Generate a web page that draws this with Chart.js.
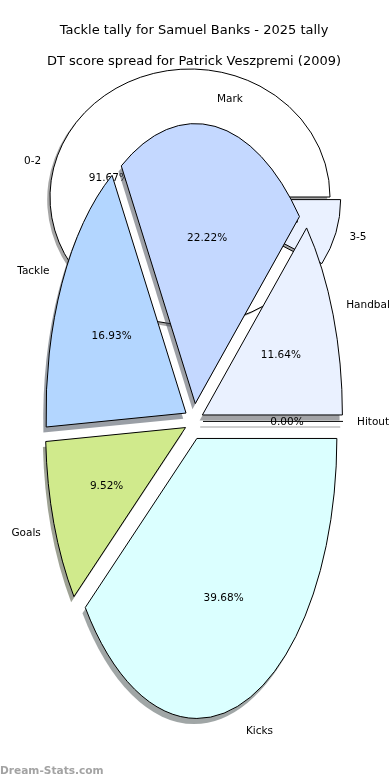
<!DOCTYPE html>
<html>
<head>
<meta charset="utf-8">
<script src="https://cdn.jsdelivr.net/npm/chart.js@4.4.1/dist/chart.umd.min.js"></script>
<style>
  html, body { margin: 0; padding: 0; background: #ffffff; width: 390px; height: 780px; overflow: hidden; }
  #wrap { position: relative; width: 390px; height: 780px; }
  #wrap canvas { position: absolute; left: 0; top: 0; }
  #wm { position: absolute; left: 0; top: 763px; font: bold 10.6px "DejaVu Sans", sans-serif; line-height: 14px; color: #a3a3a3; }
</style>
</head>
<body>
<div id="wrap">
  <canvas id="scoreChart" width="390" height="780"></canvas>
  <canvas id="tallyChart" width="390" height="780"></canvas>
  <div id="wm"></div>
</div>
<script>
// ---------- data (listed clockwise from 3 o'clock) ----------
const tallyTitle = 'Tackle tally for Samuel Banks - 2025 tally';
const tallyLabels = ['Hitout', 'Kicks', 'Goals', 'Tackle', 'Mark', 'Handball'];
const tallyValues = [0, 75, 18, 32, 42, 22];

const scoreTitle = 'DT score spread for Patrick Veszpremi (2009)';
const scoreLabels = ['3-5', '0-2'];
const scoreValues = [1, 11];

const watermarkText = 'Dream-Stats.com';

// ---------- styles ----------
const tallyColors = ['#d9d9d9', '#dbffff', '#d0ea8c', '#b3d6ff', '#c4d8ff', '#eaf1ff'];
const scoreColors = ['#eaf1ff', '#ffffff'];
const FONT = '"DejaVu Sans", sans-serif';

document.getElementById('wm').textContent = watermarkText;

function shadeOf(col) {
  const h = col.replace('#', '');
  const r = parseInt(h.slice(0, 2), 16), g = parseInt(h.slice(2, 4), 16), b = parseInt(h.slice(4, 6), 16);
  return `rgba(${Math.round(r * 0.3)},${Math.round(g * 0.3)},${Math.round(b * 0.3)},0.5)`;
}

function geom(arc, i, o) {
  const zero = !(arc.circumference > 0);
  const h = zero ? arc.startAngle : (arc.startAngle + arc.endAngle) / 2;
  const e = (o.explode && o.explode[i]) || 0;
  return {
    h, zero, cx: arc.x, cy: arc.y, r: arc.outerRadius, s: arc.startAngle, t: arc.endAngle,
    ex: arc.x + e * Math.cos(h), ey: arc.y + e * Math.sin(h)
  };
}

function applyEllipse(ctx, g, sy) {
  ctx.translate(g.cx, g.cy);
  ctx.scale(1, sy);
  ctx.translate(-g.cx, -g.cy);
}

function tracePath(ctx, g, sy, dx, dy) {
  ctx.save();
  ctx.translate(dx, dy);
  applyEllipse(ctx, g, sy);
  ctx.beginPath();
  ctx.moveTo(g.ex, g.ey);
  if (g.zero) {
    ctx.lineTo(g.ex + g.r * Math.cos(g.s), g.ey + g.r * Math.sin(g.s));
  } else {
    ctx.arc(g.ex, g.ey, g.r, g.s, g.t);
    ctx.closePath();
  }
  ctx.restore();
}

function toScreen(g, sy, ux, uy) {
  return [ux, g.cy + (uy - g.cy) * sy];
}

const ellipsePie = {
  id: 'ellipsePie',
  beforeDatasetDraw(chart, args, o) {
    const ctx = chart.ctx;
    const arcs = args.meta.data;
    const sy = o.scaleY;
    const values = chart.data.datasets[args.index].data;
    const labels = chart.data.labels;
    const total = values.reduce((a, b) => a + b, 0);
    // shadows
    arcs.forEach((arc, i) => {
      const g = geom(arc, i, o);
      tracePath(ctx, g, sy, -o.shadow * g.r, o.shadow * g.r * sy);
      const c = shadeOf(arc.options.backgroundColor);
      if (g.zero) { ctx.strokeStyle = c; ctx.lineWidth = 1.2; ctx.stroke(); }
      else { ctx.fillStyle = c; ctx.fill(); }
    });
    // wedges (library arc elements, exploded and stretched)
    arcs.forEach((arc, i) => {
      const g = geom(arc, i, o);
      ctx.save();
      applyEllipse(ctx, g, sy);
      ctx.translate(g.ex - g.cx, g.ey - g.cy);
      arc.draw(ctx);
      ctx.restore();
      tracePath(ctx, g, sy, 0, 0);
      ctx.lineWidth = o.lineWidth;
      ctx.strokeStyle = o.edgeColor;
      ctx.lineJoin = 'miter';
      ctx.stroke();
    });
    // labels
    ctx.save();
    ctx.fillStyle = '#000000';
    ctx.font = o.font;
    ctx.textBaseline = 'middle';
    arcs.forEach((arc, i) => {
      const g = geom(arc, i, o);
      const c = Math.cos(g.h), s = Math.sin(g.h);
      const [lx, ly] = toScreen(g, sy, g.ex + o.labelDist * g.r * c, g.ey + o.labelDist * g.r * s);
      ctx.textAlign = c > 0 ? 'left' : 'right';
      ctx.fillText(labels[i], lx, ly + o.textDy);
      const [px, py] = toScreen(g, sy, g.ex + o.pctDist * g.r * c, g.ey + o.pctDist * g.r * s);
      ctx.textAlign = 'center';
      ctx.fillText((values[i] / total * 100).toFixed(2) + '%', px, py + o.textDy);
    });
    ctx.restore();
    return false;
  }
};

function pieConfig(labels, values, colors, radius, padding, pluginOpts, extraPlugins) {
  return {
    type: 'pie',
    data: {
      labels: labels,
      datasets: [{
        data: values,
        backgroundColor: colors,
        borderWidth: 0,
        radius: radius,
        rotation: 90,
        clip: false
      }]
    },
    options: {
      responsive: false,
      animation: false,
      events: [],
      radius: radius,
      rotation: 90,
      layout: { padding: padding },
      plugins: Object.assign({
        legend: { display: false },
        tooltip: { enabled: false },
        ellipsePie: pluginOpts
      }, extraPlugins || {})
    },
    plugins: [ellipsePie]
  };
}

// upper pie (drawn first, underneath)
new Chart(document.getElementById('scoreChart'), pieConfig(
  scoreLabels, scoreValues, scoreColors, 140,
  { left: 0, right: 10, top: 100, bottom: 486 },
  { scaleY: 128 / 140, explode: [11, 0], shadow: 0.02, lineWidth: 1, edgeColor: '#000000',
    font: '10.5px ' + FONT, labelDist: 1.1, pctDist: 0.6, textDy: 0.8 }
));

// lower pie with both titles
new Chart(document.getElementById('tallyChart'), pieConfig(
  tallyLabels, tallyValues, tallyColors, 140,
  { left: 0, right: 2, top: 0, bottom: 6.8 },
  { scaleY: 2.0, explode: [9, 9, 9, 9, 9, 9], shadow: 0.02, lineWidth: 1, edgeColor: '#000000',
    font: '10.5px ' + FONT, labelDist: 1.1, pctDist: 0.6, textDy: 0.8 },
  {
    title: { display: true, text: tallyTitle, color: '#000000',
             font: { family: FONT, size: 13, weight: 'normal', lineHeight: 1.2 },
             padding: { top: 23, bottom: 0 } },
    subtitle: { display: true, text: scoreTitle, color: '#000000',
                font: { family: FONT, size: 13, weight: 'normal', lineHeight: 1.2 },
                padding: { top: 15.4, bottom: 0 } }
  }
));
</script>
</body>
</html>
